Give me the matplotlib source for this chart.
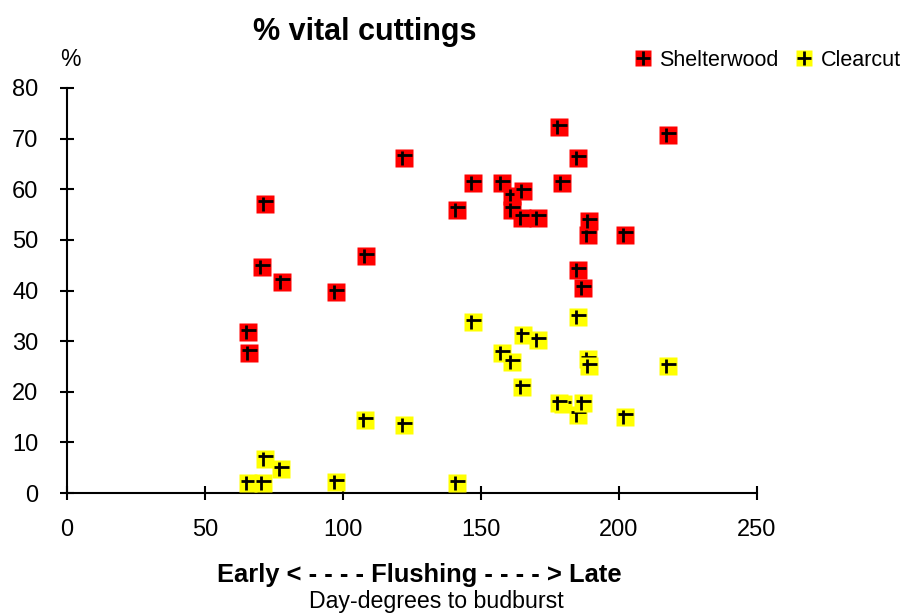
import matplotlib
matplotlib.use("Agg")
import matplotlib.pyplot as plt
from matplotlib.lines import Line2D
import matplotlib.transforms as mtransforms

plt.rcParams['font.family'] = ['Liberation Sans', 'DejaVu Sans']

# Shelterwood: day-degrees to budburst, % vital cuttings
shelter_x = [65.6, 65.9, 70.7, 71.7, 77.9, 97.5, 108.3, 122.1, 141.4, 147.2,
             157.7, 161.3, 161.3, 164.9, 165.3, 170.8, 178.4, 179.5, 185.3, 185.3,
             187.1, 188.9, 189.3, 202.3, 217.9]
shelter_y = [31.8, 27.7, 44.6, 57.1, 41.7, 39.7, 46.8, 66.2, 56.0, 61.2,
             61.2, 58.6, 56.0, 54.4, 59.6, 54.4, 72.2, 61.2, 66.1, 44.0,
             40.4, 51.0, 53.7, 51.0, 70.7]

# Clearcut
clear_x = [65.7, 70.9, 71.8, 77.7, 97.6, 108.0, 122.2, 141.4, 147.2, 157.7,
           161.3, 164.9, 165.3, 170.8, 179.6, 178.4, 185.3, 185.3, 187.1, 188.9,
           189.3, 202.3, 217.9]
clear_y = [1.9, 1.9, 6.8, 4.7, 2.1, 14.4, 13.4, 1.9, 33.7, 27.6,
           25.8, 20.9, 31.2, 30.2, 17.5, 17.7, 34.7, 15.5, 17.7, 26.4,
           25.0, 15.1, 25.0]

x_ticks = [0, 50, 100, 150, 200, 250]
y_ticks = [0, 10, 20, 30, 40, 50, 60, 70, 80]

W, H = 905, 615
fig = plt.figure(figsize=(W / 100, H / 100), dpi=100)
ax = fig.add_axes([67 / W, 1 - 493 / H, 690 / W, 405 / H])
ax.set_xlim(0, 250)
ax.set_ylim(0, 80)

hoff = mtransforms.ScaledTranslation(0, 2.5 / 100, fig.dpi_scale_trans)
voff = mtransforms.ScaledTranslation(-2.0 / 100, 0, fig.dpi_scale_trans)

def draw_series(xs, ys, color, z0):
    z = z0
    for x, y in zip(xs, ys):
        ax.plot([x], [y], marker='s', ms=12.4, mfc=color, mec='none',
                ls='none', zorder=z, clip_on=False)
        ax.plot([x], [y], marker='_', ms=10.8, mew=2.0, color='black',
                ls='none', zorder=z + 0.1, clip_on=False,
                transform=ax.transData + hoff)
        ax.plot([x], [y], marker='|', ms=9.8, mew=2.0, color='black',
                ls='none', zorder=z + 0.1, clip_on=False,
                transform=ax.transData + voff)
        z += 0.2

draw_series(shelter_x, shelter_y, '#ff0000', 3)
draw_series(clear_x, clear_y, '#ffff00', 20)

for s in ['top', 'right']:
    ax.spines[s].set_visible(False)
for s in ['left', 'bottom']:
    ax.spines[s].set_linewidth(1.5)
    ax.spines[s].set_color('black')

ax.set_xticks(x_ticks)
ax.set_yticks(y_ticks)
ax.tick_params(axis='both', direction='inout', length=10, width=1.5,
               labelsize=17, colors='black')
ax.tick_params(axis='y', pad=15.5)
ax.tick_params(axis='x', pad=14)

fig.text(365 / W, 1 - 32 / H, '% vital cuttings', ha='center', va='center',
         fontsize=22, fontweight='bold')
fig.text(70 / W, 1 - 60 / H, '%', ha='center', va='center', fontsize=16.5)
fig.text(419 / W, 1 - 582 / H, 'Early < - - - - Flushing - - - - > Late',
         ha='center', va='baseline', fontsize=18.4, fontweight='bold')
fig.text(436 / W, 1 - 608 / H, 'Day-degrees to budburst', ha='center',
         va='baseline', fontsize=16.7)

def handle(color):
    sq = Line2D([], [], marker='s', ms=11, mfc=color, mec='none', ls='none')
    cr = Line2D([], [], marker='+', ms=9.5, mew=2.0, color='black', ls='none')
    return (sq, cr)

fig.legend([handle('#ff0000'), handle('#ffff00')], ['Shelterwood', 'Clearcut'],
           loc='center right', bbox_to_anchor=(1.0 - 4 / W, 1 - 60 / H), ncol=2,
           frameon=False, fontsize=15.5, handlelength=0.75, handletextpad=0.4,
           columnspacing=0.8, borderpad=0, borderaxespad=0)

fig.savefig('out.png', dpi=100)
